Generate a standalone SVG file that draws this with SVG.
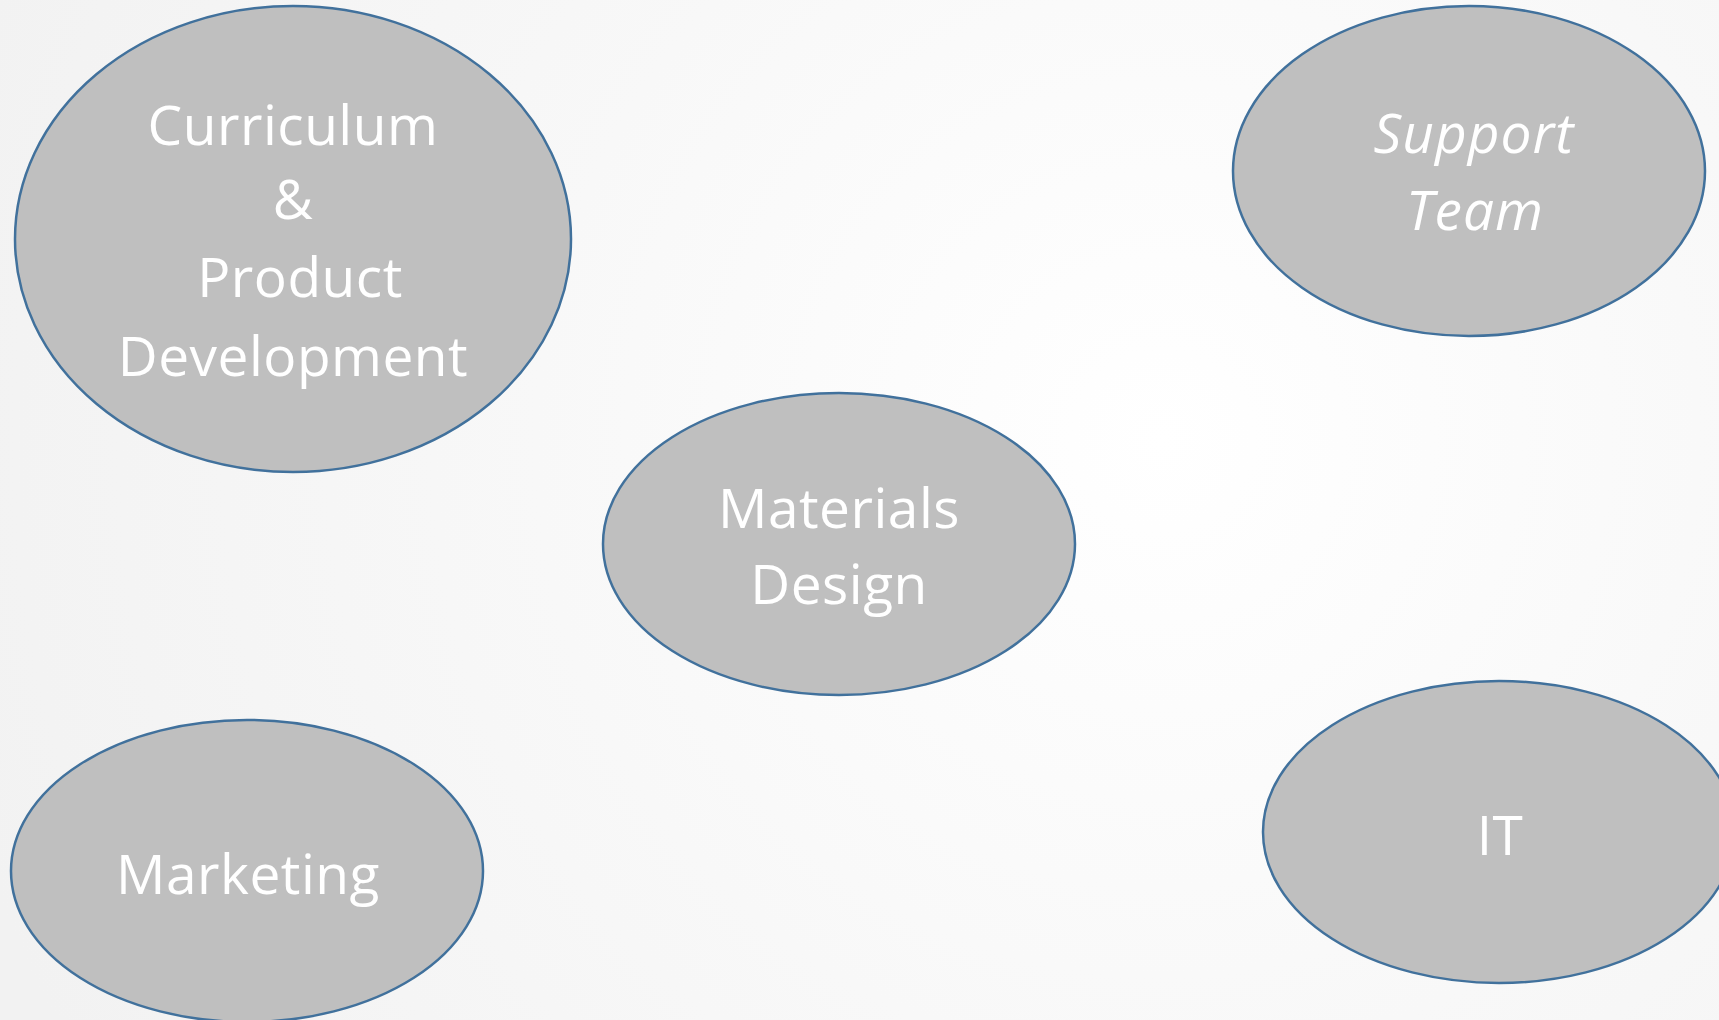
<svg xmlns="http://www.w3.org/2000/svg" width="1719" height="1020" viewBox="0 0 1719 1020">
<defs>
<radialGradient id="bg" cx="1162" cy="440" r="1250" gradientUnits="userSpaceOnUse">
<stop offset="0" stop-color="#ffffff"/>
<stop offset="0.5" stop-color="#f8f8f8"/>
<stop offset="1" stop-color="#f2f2f2"/>
</radialGradient>
<style>
.node ellipse{fill:#bfbfbf;stroke:#41719c;stroke-width:2.5}
.node text{fill:#ffffff;font-family:"Open Sans","Segoe UI","DejaVu Sans",sans-serif;font-size:55px;text-anchor:middle;letter-spacing:0.5px}
.node text.it{font-style:italic;letter-spacing:1px}
</style>
</defs>
<rect width="1719" height="1020" fill="url(#bg)"/>
<g id="connectors"></g>
<g id="curriculum" class="node">
<ellipse cx="293" cy="239" rx="278" ry="233"/>
<text x="293" y="145">Curriculum</text>
<text x="293" y="219">&amp;</text>
<text x="300" y="297">Product</text>
<text x="293" y="376">Development</text>
</g>
<g id="support" class="node">
<ellipse cx="1469" cy="171" rx="236" ry="165"/>
<text class="it" x="1474" y="153">Support</text>
<text class="it" x="1475" y="230">Team</text>
</g>
<g id="materials" class="node">
<ellipse cx="839" cy="544" rx="236" ry="151"/>
<text x="839" y="528">Materials</text>
<text x="839" y="604">Design</text>
</g>
<g id="marketing" class="node">
<ellipse cx="247" cy="871" rx="236" ry="151"/>
<text x="248" y="894">Marketing</text>
</g>
<g id="it" class="node">
<ellipse cx="1499" cy="832" rx="236" ry="151"/>
<text x="1500" y="855">IT</text>
</g>
</svg>
